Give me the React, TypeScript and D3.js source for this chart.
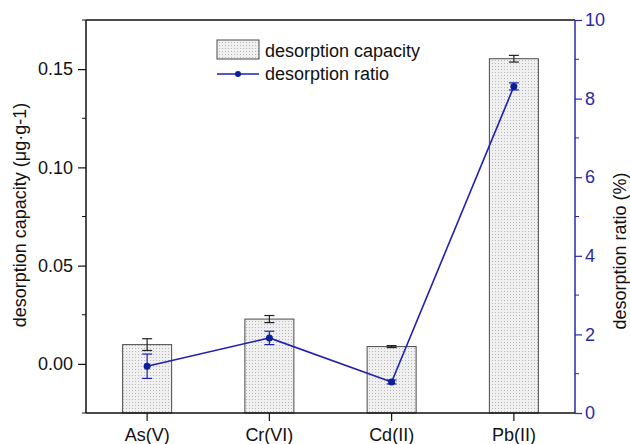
import React, { useEffect, useRef } from 'react';
import * as d3 from 'd3';

const CATEGORIES = ['As(V)', 'Cr(VI)', 'Cd(II)', 'Pb(II)'];
const CAPACITY = [0.0098, 0.0228, 0.0088, 0.1553];
const CAPACITY_ERR = [0.003, 0.0018, 0.0005, 0.0017];
const RATIO = [1.19, 1.91, 0.79, 8.31];
const RATIO_ERR = [0.31, 0.17, 0.05, 0.09];
const LEFT_TICKS = [0, 0.05, 0.1, 0.15];
const LEFT_MINOR = [-0.025, 0.025, 0.075, 0.125, 0.175];
const RIGHT_TICKS = [0, 2, 4, 6, 8, 10];
const RIGHT_MINOR = [1, 3, 5, 7, 9];

const FONT = 'Liberation Sans, Arial, sans-serif';
const FS = 18;
const BLUE = '#1f1fb4';
const AXIS_BLUE = '#2a2aa8';

export default function App() {
  const ref = useRef<SVGSVGElement>(null);

  useEffect(() => {
    const svgEl = ref.current;
    if (!svgEl) return;
    const W = 630;
    const H = 444;
    const left = 86;
    const right = 575;
    const top = 20;
    const bottom = 413;

    const svg = d3.select(svgEl).attr('width', W).attr('height', H);
    svg.selectAll('*').remove();

    const defs = svg.append('defs');
    const pat = defs
      .append('pattern')
      .attr('id', 'dots')
      .attr('patternUnits', 'userSpaceOnUse')
      .attr('width', 3)
      .attr('height', 3);
    pat.append('rect').attr('width', 3).attr('height', 3).attr('fill', '#f0f0f0');
    pat.append('rect').attr('width', 1).attr('height', 1).attr('fill', '#b8b8b8');

    const x = d3.scaleBand().domain(CATEGORIES).range([left, right]).padding(0);
    const yL = d3.scaleLinear().domain([-0.025, 0.175]).range([bottom, top]);
    const yR = d3.scaleLinear().domain([0, 10]).range([bottom, top]);
    const barW = 49;
    const cx = (c: string) => (x(c) ?? 0) + x.bandwidth() / 2;

    // bars
    svg
      .append('g')
      .selectAll('rect')
      .data(CATEGORIES)
      .join('rect')
      .attr('x', (c) => cx(c) - barW / 2)
      .attr('width', barW)
      .attr('y', (_, i) => yL(CAPACITY[i]))
      .attr('height', (_, i) => yL(-0.025) - yL(CAPACITY[i]))
      .attr('fill', 'url(#dots)')
      .attr('stroke', '#4a4a4a')
      .attr('stroke-width', 1);

    // capacity error bars
    const capErr = svg.append('g').attr('stroke', '#222').attr('stroke-width', 1.2);
    CATEGORIES.forEach((c, i) => {
      const x0 = cx(c);
      const y1 = yL(CAPACITY[i] + CAPACITY_ERR[i]);
      const y2 = yL(CAPACITY[i] - CAPACITY_ERR[i]);
      capErr.append('line').attr('x1', x0).attr('x2', x0).attr('y1', y1).attr('y2', y2);
      capErr.append('line').attr('x1', x0 - 5).attr('x2', x0 + 5).attr('y1', y1).attr('y2', y1);
      capErr.append('line').attr('x1', x0 - 5).attr('x2', x0 + 5).attr('y1', y2).attr('y2', y2);
    });

    // ratio line
    const line = d3
      .line<number>()
      .x((_, i) => cx(CATEGORIES[i]))
      .y((d) => yR(d));
    svg
      .append('path')
      .datum(RATIO)
      .attr('d', line)
      .attr('fill', 'none')
      .attr('stroke', BLUE)
      .attr('stroke-width', 1.6);

    const ratErr = svg.append('g').attr('stroke', BLUE).attr('stroke-width', 1.2);
    CATEGORIES.forEach((c, i) => {
      const x0 = cx(c);
      const y1 = yR(RATIO[i] + RATIO_ERR[i]);
      const y2 = yR(RATIO[i] - RATIO_ERR[i]);
      ratErr.append('line').attr('x1', x0).attr('x2', x0).attr('y1', y1).attr('y2', y2);
      ratErr.append('line').attr('x1', x0 - 5).attr('x2', x0 + 5).attr('y1', y1).attr('y2', y1);
      ratErr.append('line').attr('x1', x0 - 5).attr('x2', x0 + 5).attr('y1', y2).attr('y2', y2);
    });

    svg
      .append('g')
      .selectAll('circle')
      .data(RATIO)
      .join('circle')
      .attr('cx', (_, i) => cx(CATEGORIES[i]))
      .attr('cy', (d) => yR(d))
      .attr('r', 3.5)
      .attr('fill', '#0b1f9a');

    // frame top
    svg
      .append('line')
      .attr('x1', left)
      .attr('x2', right)
      .attr('y1', top)
      .attr('y2', top)
      .attr('stroke', '#111')
      .attr('stroke-width', 1.5);

    // left axis
    const gL = svg.append('g').attr('transform', `translate(${left},0)`);
    gL.call(d3.axisLeft(yL).tickValues(LEFT_TICKS).tickFormat(d3.format('.2f')).tickSize(8).tickPadding(5));
    gL.append('g')
      .selectAll('line')
      .data(LEFT_MINOR)
      .join('line')
      .attr('x1', 0)
      .attr('x2', -4)
      .attr('y1', (d) => yL(d))
      .attr('y2', (d) => yL(d))
      .attr('stroke', '#111');
    gL.select('.domain').attr('d', `M0,${top}V${bottom}`).attr('stroke', '#111').attr('stroke-width', 1.5);
    gL.selectAll('.tick line').attr('stroke', '#111').attr('stroke-width', 1.2);
    gL.selectAll('.tick text').attr('font-family', FONT).attr('font-size', FS).attr('fill', '#111');

    // right axis
    const gR = svg.append('g').attr('transform', `translate(${right},0)`);
    gR.call(d3.axisRight(yR).tickValues(RIGHT_TICKS).tickFormat(d3.format('d')).tickSize(7).tickPadding(3));
    gR.append('g')
      .selectAll('line')
      .data(RIGHT_MINOR)
      .join('line')
      .attr('x1', 0)
      .attr('x2', 4)
      .attr('y1', (d) => yR(d))
      .attr('y2', (d) => yR(d))
      .attr('stroke', AXIS_BLUE);
    gR.select('.domain').attr('d', `M0,${top}V${bottom}`).attr('stroke', AXIS_BLUE).attr('stroke-width', 1.5);
    gR.selectAll('.tick line').attr('stroke', AXIS_BLUE).attr('stroke-width', 1.2);
    gR.selectAll('.tick text').attr('font-family', FONT).attr('font-size', FS).attr('fill', AXIS_BLUE);

    // bottom axis
    const gB = svg.append('g').attr('transform', `translate(0,${bottom})`);
    gB.call(d3.axisBottom(x).tickSize(8).tickPadding(7));
    gB.select('.domain').attr('d', `M${left},0H${right}`).attr('stroke', '#111').attr('stroke-width', 1.5);
    gB.selectAll('.tick line').attr('stroke', '#111').attr('stroke-width', 1.2);
    gB.selectAll('.tick text').attr('font-family', FONT).attr('font-size', FS).attr('fill', '#111');

    // axis titles
    svg
      .append('text')
      .attr('transform', `translate(26,${215}) rotate(-90)`)
      .attr('text-anchor', 'middle')
      .attr('font-family', FONT)
      .attr('font-size', FS)
      .attr('fill', '#111')
      .text('desorption capacity (μg·g-1)');
    svg
      .append('text')
      .attr('transform', `translate(626,${251}) rotate(-90)`)
      .attr('text-anchor', 'middle')
      .attr('font-family', FONT)
      .attr('font-size', FS)
      .attr('fill', '#111')
      .text('desorption ratio (%)');

    // legend
    const lg = svg.append('g');
    lg.append('rect')
      .attr('x', 217)
      .attr('y', 40)
      .attr('width', 42)
      .attr('height', 19)
      .attr('fill', 'url(#dots)')
      .attr('stroke', '#4a4a4a');
    lg.append('text')
      .attr('x', 265)
      .attr('y', 57)
      .attr('font-family', FONT)
      .attr('font-size', FS)
      .attr('fill', '#111')
      .text('desorption capacity');
    lg.append('line')
      .attr('x1', 217)
      .attr('x2', 259)
      .attr('y1', 74)
      .attr('y2', 74)
      .attr('stroke', BLUE)
      .attr('stroke-width', 1.6);
    lg.append('circle').attr('cx', 238).attr('cy', 74).attr('r', 3).attr('fill', '#0b1f9a');
    lg.append('text')
      .attr('x', 265)
      .attr('y', 80)
      .attr('font-family', FONT)
      .attr('font-size', FS)
      .attr('fill', '#111')
      .text('desorption ratio');
  }, []);

  return (
    <svg
      ref={ref}
      style={{ position: 'absolute', left: 0, top: 0, background: '#fff' }}
      aria-label="desorption capacity and ratio chart"
    />
  );
}
